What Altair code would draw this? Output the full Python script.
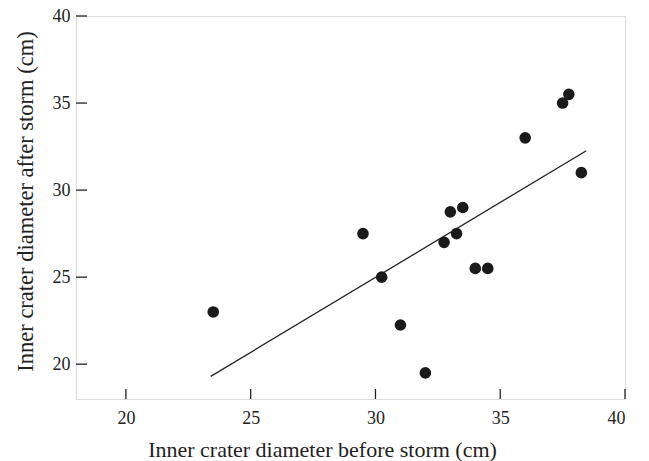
import altair as alt
import pandas as pd

before = [23.5, 29.5, 30.25, 31.0, 32.0, 32.75, 33.0, 33.25, 33.5, 34.0, 34.5, 36.0, 37.5, 37.75, 38.25]
after = [23.0, 27.5, 25.0, 22.25, 19.5, 27.0, 28.75, 27.5, 29.0, 25.5, 25.5, 33.0, 35.0, 35.5, 31.0]
tick_values = [20, 25, 30, 35, 40]
line_extent = [23.4, 38.45]

df = pd.DataFrame({"before": before, "after": after})
ticks = pd.DataFrame({"v": tick_values})

W, H = 549, 383
FONT = "Liberation Serif"

xscale = alt.Scale(domain=[18, 40], nice=False, zero=False)
yscale = alt.Scale(domain=[18, 40], nice=False, zero=False)

xaxis = alt.Axis(
    title="Inner crater diameter before storm (cm)",
    values=tick_values, ticks=False, tickSize=0, domain=False, grid=False,
    labelFont=FONT, labelFontSize=18, labelColor="#222", labelPadding=10,
    titleFont=FONT, titleFontSize=22, titleFontWeight="normal", titleColor="#222",
    titleX=246, titleY=57, titleBaseline="alphabetic", titleAlign="center",
)
yaxis = alt.Axis(
    title="Inner crater diameter after storm (cm)",
    values=tick_values, ticks=False, tickSize=0, domain=False, grid=False,
    labelFont=FONT, labelFontSize=18, labelColor="#222", labelPadding=6,
    titleFont=FONT, titleFontSize=22.5, titleFontWeight="normal", titleColor="#222",
    titleX=-44, titleY=185, titleBaseline="alphabetic", titleAlign="center", titleAngle=270,
)

points = alt.Chart(df).mark_circle(size=135, color="#1a1a1a", opacity=1).encode(
    x=alt.X("before:Q", scale=xscale, axis=xaxis),
    y=alt.Y("after:Q", scale=yscale, axis=yaxis),
)

line = alt.Chart(df).transform_regression(
    "before", "after", extent=line_extent
).mark_line(color="#222", strokeWidth=1.3).encode(
    x=alt.X("before:Q", scale=xscale),
    y=alt.Y("after:Q", scale=yscale),
)

xt = alt.Chart(ticks).mark_rule(color="#222", strokeWidth=1.3).encode(
    x=alt.X("v:Q", scale=xscale),
    y=alt.value(H), y2=alt.value(H - 10),
)
yt = alt.Chart(ticks).mark_rule(color="#222", strokeWidth=1.3).encode(
    y=alt.Y("v:Q", scale=yscale),
    x=alt.value(0), x2=alt.value(11),
)

chart = alt.layer(line, points, xt, yt).properties(
    width=W, height=H,
    autosize=alt.AutoSizeParams(type="none"),
    padding={"left": 68, "top": 8, "right": 16, "bottom": 62},
).configure_view(stroke="#222", strokeWidth=1.6).configure(background="white")

chart.save("out.html", embed_options={"renderer": "svg", "actions": False})
